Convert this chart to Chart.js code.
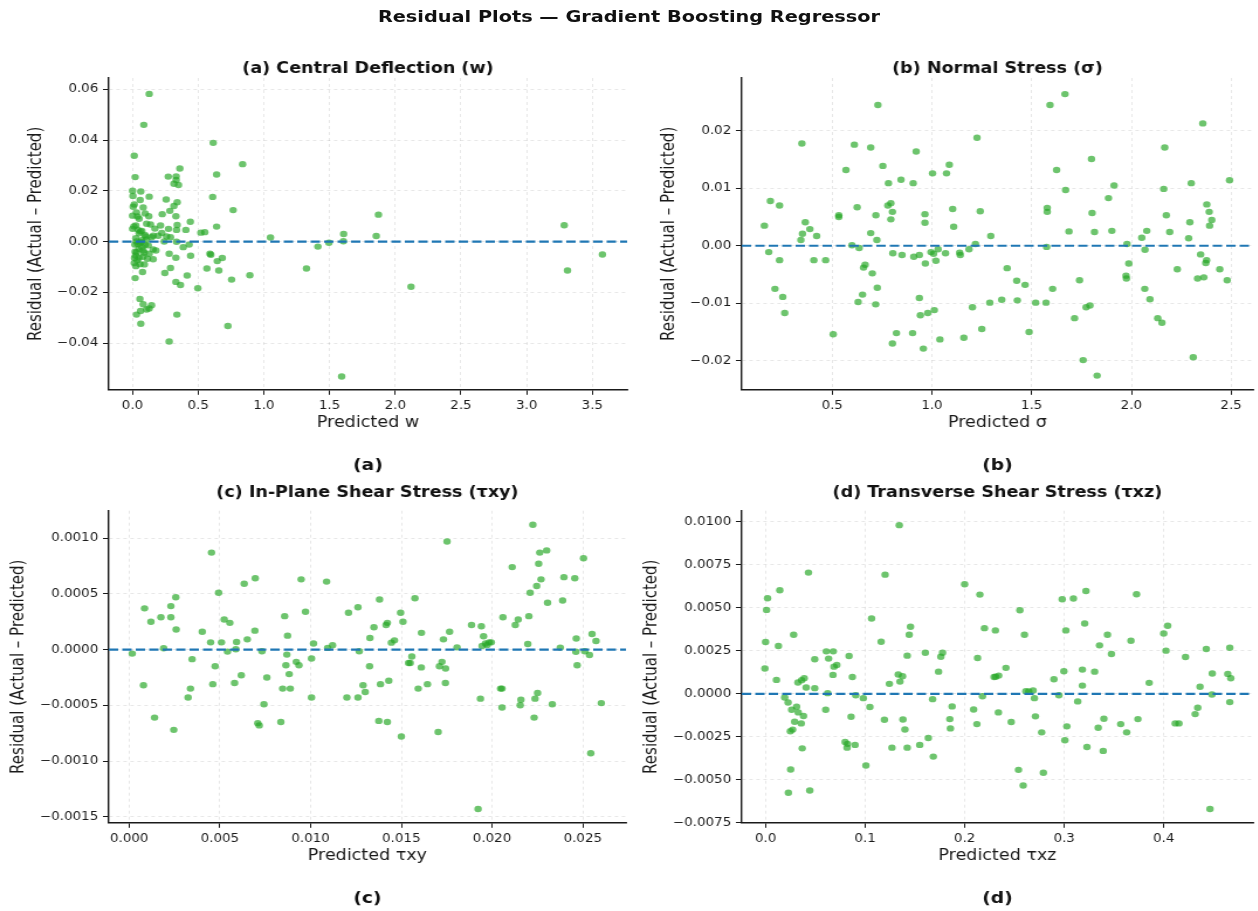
<!DOCTYPE html>
<html>
<head>
<meta charset="utf-8">
<title>Residual Plots — Gradient Boosting Regressor</title>
<script src="https://cdn.jsdelivr.net/npm/chart.js@4.4.1/dist/chart.umd.min.js"></script>
<style>
  html, body { margin: 0; padding: 0; background: #fff; width: 1258px; height: 911px; overflow: hidden; }
  /* the figure is laid out on a narrower sheet and widened horizontally */
  #fig { position: absolute; left: 0; top: 0; width: 1075.2px; height: 911px; transform: scaleX(1.17); transform-origin: 0 0; }
  #suptitle { position: absolute; left: 0; top: 7px; width: 1075.2px; text-align: center;
              font: bold 16.5px "DejaVu Sans", sans-serif; line-height: 20px; color: #111; }
  canvas { position: absolute; }
</style>
</head>
<body>
<div id="fig">
  <div id="suptitle">Residual Plots — Gradient Boosting Regressor</div>
  <canvas id="pa" width="548" height="431" style="left:0px;top:44px;width:548px;height:431px"></canvas>
  <canvas id="pb" width="527" height="431" style="left:548px;top:44px;width:527px;height:431px"></canvas>
  <canvas id="pc" width="548" height="432" style="left:0px;top:476px;width:548px;height:432px"></canvas>
  <canvas id="pd" width="527" height="432" style="left:548px;top:476px;width:527px;height:432px"></canvas>
</div>
<script>
// ---- (a) central deflection w: predicted value / residual ----
const wPred = [
  0.127, 0.086, 0.013, 0.614, 0.838, 0.36, 0.64, 0.02, 0.272, 0.332,
  0.332, 0.315, 0.35, 0.0, 0.063, 0.003, 0.127, 0.058, 0.61, 0.256,
  0.34, 0.013, 0.315, 0.081, 0.005, 0.284, 0.766, 0.096, 0.226, 0.0,
  0.038, 0.124, 0.33, 0.44, 0.107, 0.137, 0.213, 0.34, 0.64, 0.0,
  0.04, 0.071, 0.17, 0.274, 0.335, 0.406, 0.05, 0.094, 0.157, 0.223,
  0.259, 0.52, 0.55, 0.025, 0.107, 0.241, 0.335, 1.05, 0.018, 0.056,
  0.096, 0.071, 0.386, 0.431, 0.157, 0.178, 0.03, 0.089, 0.279, 0.33,
  0.442, 0.589, 0.596, 0.023, 0.048, 0.114, 0.157, 0.645, 0.683, 0.013,
  0.056, 0.025, 0.566, 0.657, 0.246, 0.289, 0.076, 0.02, 0.416, 0.893,
  0.754, 0.33, 0.365, 0.497, 0.056, 0.081, 0.145, 0.127, 0.107, 0.061,
  0.03, 0.338, 0.063, 0.726, 0.279, 0.03, 0.069, 0.048, 0.081, 0.036,
  0.127, 0.025, 0.145, 0.195, 0.289, 0.01, 0.04, 0.06, 0.08, 0.1,
  0.02, 0.05, 0.09, 0.07, 0.03, 0.12, 0.015,
  1.324, 1.411, 1.495, 1.607, 1.605, 1.855, 1.872, 2.12, 1.592, 3.286,
  3.311, 3.577
];
const wResid = [
  0.0582, 0.046, 0.0338, 0.0389, 0.0305, 0.0288, 0.0264, 0.0254, 0.0256, 0.0257,
  0.0243, 0.0228, 0.0223, 0.020, 0.0197, 0.018, 0.0177, 0.0164, 0.0176, 0.0166,
  0.0155, 0.0146, 0.014, 0.0134, 0.0137, 0.0121, 0.0124, 0.0111, 0.0108, 0.0102,
  0.0099, 0.01, 0.01, 0.0078, 0.007, 0.0067, 0.0063, 0.0065, 0.0059, 0.005,
  0.0047, 0.0042, 0.0051, 0.005, 0.0046, 0.0046, 0.0033, 0.0026, 0.0023, 0.0034,
  0.002, 0.0035, 0.0037, 0.0013, 0.0008, 0.0, -0.0001, 0.0016, -0.0012, -0.0005,
  -0.0013, -0.0022, -0.0022, -0.0012, -0.0031, -0.0035, -0.0042, -0.0044, -0.0048, -0.0064,
  -0.0056, -0.0048, -0.0052, -0.0055, -0.0064, -0.0068, -0.007, -0.0077, -0.0065, -0.0085,
  -0.0089, -0.0097, -0.0106, -0.0114, -0.0124, -0.0104, -0.012, -0.0144, -0.0134, -0.0133,
  -0.015, -0.0159, -0.0171, -0.0184, -0.0226, -0.0247, -0.0251, -0.0264, -0.0268, -0.0274,
  -0.0288, -0.0288, -0.0324, -0.0333, -0.0394, 0.0, -0.0003, -0.0029, -0.0035, -0.0074,
  -0.0048, 0.0063, 0.0017, 0.0023, 0.0017, 0.006, -0.001, 0.004, -0.006, 0.002,
  -0.004, 0.009, -0.009, 0.0005, 0.0115, -0.0015, -0.0065,
  -0.0106, -0.002, -0.0005, 0.003, 0.0001, 0.0022, 0.0106, -0.0178, -0.0532, 0.0064,
  -0.0114, -0.0051
];

// ---- (b) normal stress σ ----
const sigmaPred = [
  0.160, 0.182, 0.19, 0.236, 0.236, 0.213, 0.252, 0.262, 0.348, 0.365,
  0.351, 0.343, 0.388, 0.422, 0.408, 0.467, 0.505, 0.533, 0.533, 0.569,
  0.611, 0.625, 0.599, 0.635, 0.665, 0.657, 0.701, 0.652, 0.63, 0.693,
  0.729, 0.693, 0.724, 0.719, 0.726, 0.718, 0.754, 0.782, 0.779, 0.794,
  0.802, 0.794, 0.804, 0.802, 0.822, 0.845, 0.85, 0.906, 0.921, 0.909,
  0.937, 0.965, 0.965, 0.967, 0.937, 0.942, 0.979, 1.012, 0.903, 0.957,
  1.003, 0.995, 1.008, 1.02, 1.031, 1.068, 1.04, 1.073, 1.087, 1.104,
  1.109, 1.139, 1.142, 1.186, 1.16, 1.203, 1.226, 1.218,
  1.242, 1.25, 1.295, 1.29, 1.35, 1.377, 1.425, 1.428, 1.467, 1.487,
  1.52, 1.572, 1.575, 1.578, 1.578, 1.592, 1.605, 1.625, 1.667, 1.67,
  1.687, 1.715, 1.74, 1.758, 1.773, 1.792, 1.8, 1.803, 1.815, 1.828,
  1.885, 1.902, 1.913, 1.973, 1.975, 1.978, 1.987, 2.052, 2.068, 2.077,
  2.067, 2.093, 2.132, 2.153, 2.162, 2.167, 2.175, 2.192, 2.23, 2.287,
  2.293, 2.3, 2.31, 2.332, 2.347, 2.358, 2.363, 2.373, 2.377, 2.378,
  2.39, 2.392, 2.403, 2.443, 2.48, 2.492
];
const sigmaResid = [
  0.0035, -0.0011, 0.0078, 0.007, -0.0025, -0.0075, -0.0089, -0.0117, 0.0178, 0.0041,
  0.0021, 0.001, 0.0029, 0.0017, -0.0025, -0.0025, -0.0154, 0.0053, 0.005, 0.0132,
  0.0176, 0.0067, 0.0001, -0.0004, -0.0033, -0.0038, -0.0048, -0.0085, -0.0098, 0.0171,
  0.0245, 0.0022, 0.001, 0.0053, -0.0073, -0.0102, 0.0139, 0.0109, 0.007, 0.0074,
  0.0059, 0.0046, -0.0013, -0.017, -0.0152, 0.0115, -0.0016, 0.0109, 0.0164, -0.0019,
  -0.0016, 0.0055, 0.004, -0.0031, -0.0091, -0.0121, -0.0117, -0.0112, -0.0152, -0.0179,
  0.0126, -0.0011, -0.0014, -0.0026, -0.0006, -0.0013, -0.0163, 0.0126, 0.0141, 0.0064,
  0.0033, -0.0012, -0.0016, -0.0006, -0.016, -0.0107, 0.0188, 0.0003,
  0.006, -0.0145, 0.0017, -0.0099, -0.0094, -0.0039, -0.0061, -0.0095, -0.0068, -0.015,
  -0.0099, -0.0099, -0.0002, 0.0066, 0.0059, 0.0245, -0.0075, 0.0132, 0.0264, 0.0097,
  0.0025, -0.0126, -0.006, -0.0199, -0.0107, -0.0104, 0.0151, 0.0057, 0.0024, -0.0226,
  0.0083, 0.0026, 0.0105, -0.0052, -0.0057, 0.0003, -0.0031, 0.0014, -0.0007, 0.0026,
  -0.0075, -0.0093, -0.0126, -0.0134, 0.0099, 0.0171, 0.0053, 0.0024, -0.0041, 0.0013,
  0.0041, 0.0109, -0.0194, -0.0057, -0.0015, 0.0213, -0.0055, -0.003, -0.0025, 0.0072,
  0.0059, 0.0035, 0.0045, -0.0041, -0.006, 0.0114
];

// ---- (c) in-plane shear stress τxy ----
const txyPred = [
  0.00017, 0.00085, 0.00079, 0.0012, 0.0014, 0.00175, 0.0019, 0.0023, 0.0023, 0.00257,
  0.00259, 0.00246, 0.00325, 0.00338, 0.00347, 0.00403, 0.00454, 0.00449, 0.00461, 0.00474,
  0.00493, 0.00509, 0.00524, 0.00542, 0.00555, 0.00581, 0.00592, 0.00588, 0.00618, 0.00634,
  0.00651, 0.00695, 0.00693, 0.00709, 0.00717, 0.00732, 0.00743, 0.00759, 0.00836, 0.00846,
  0.00857, 0.00873, 0.00869, 0.00864, 0.00882, 0.00888, 0.00921, 0.00936, 0.00948, 0.00972,
  0.01005, 0.01016, 0.01005, 0.01088, 0.01094, 0.01121, 0.012, 0.01209, 0.01261, 0.01268,
  0.01261, 0.01289, 0.01301, 0.01327, 0.01325,
  0.01349, 0.0138, 0.01385, 0.01376, 0.01416, 0.01423, 0.01431, 0.01423, 0.01445, 0.01462,
  0.01496, 0.01509, 0.015, 0.0154, 0.01549, 0.01558, 0.01575, 0.01593, 0.0161, 0.01611,
  0.01644, 0.01703, 0.0171, 0.01724, 0.01732, 0.01744, 0.01743, 0.01752, 0.01766, 0.01807,
  0.01887, 0.01923, 0.01936, 0.01941, 0.01953, 0.01945, 0.01964, 0.01973, 0.01984, 0.01996,
  0.02047, 0.02055, 0.02055, 0.0206, 0.02111, 0.02128, 0.02144, 0.02159, 0.02155, 0.02197,
  0.02203, 0.0221, 0.02225, 0.02232, 0.02237, 0.02246, 0.02251, 0.02257, 0.02263, 0.0227,
  0.02301, 0.02306, 0.02332, 0.02376, 0.02389, 0.02396, 0.02456, 0.02464, 0.02462, 0.02469,
  0.02504, 0.02511, 0.02537, 0.02544, 0.02551, 0.02573, 0.02602
];
const txyResid = [
  -0.000036, 0.00037, -0.00032, 0.00025, -0.00061, 0.00029, 0.000012, 0.00039, 0.00029, 0.00047,
  0.00018, -0.00072, -0.00043, -0.00035, -0.000086, 0.00016, 0.00087, 0.000065, -0.00031, -0.00015,
  0.00051, 0.000065, 0.00027, -0.000018, 0.00024, -0.0003, 0.000068, 0.000003, -0.00023, 0.00059,
  0.000092, 0.00064, 0.00017, -0.00066, -0.00068, -0.000015, -0.00049, -0.00025, -0.00065, -0.00035,
  0.0003, 0.000125, -0.000045, -0.00014, -0.00022, -0.00035, -0.00011, -0.00014, 0.00063, 0.00034,
  -0.00008, 0.000054, -0.00043, 0.00061, 0.000015, 0.000039, -0.00043, 0.00033, 0.00038, -0.000015,
  -0.00043, -0.00032, -0.00038, 0.000104, -0.00015,
  0.0002, 0.00045, -0.00031, -0.00064, 0.00022, 0.00024, -0.00028, -0.00065, 0.000062, 0.000083,
  0.00033, 0.00025, -0.00078, -0.00012, -0.00012, -0.000062, 0.00046, -0.00035, -0.00016, 0.00015,
  -0.00031, -0.00074, -0.00015, -0.00011, 0.000092, -0.00017, -0.0003, 0.00097, 0.00016, 0.00002,
  0.00022, -0.00143, -0.00044, 0.00021, 0.00012, 0.000033, 0.000054, 0.000042, 0.000065, 0.000065,
  -0.00035, -0.00035, -0.00052, 0.00029, 0.00074, 0.00022, 0.00027, -0.00045, -0.0005, 0.00005,
  0.0003, 0.00051, 0.00112, -0.00061, -0.00044, 0.00057, -0.00039, 0.00077, 0.00087, 0.00063,
  0.00089, 0.00042, -0.00049, 0.000018, 0.00044, 0.00065, 0.00064, 0.0001, -0.00002, -0.00014,
  0.00082, -0.000015, -0.000048, -0.00093, 0.00014, 0.000077, -0.00048
];

// ---- (d) transverse shear stress τxz ----
const txzPred = [
  -0.0007, 0.0, 0.001, 0.002, 0.0109, 0.0129, 0.0143, 0.0192, 0.0226, 0.0262,
  0.0249, 0.0272, 0.0282, 0.0292, 0.0312, 0.0325, 0.0328, 0.0358, 0.0368, 0.0362,
  0.0381, 0.0388, 0.0408, 0.0431, 0.0252, 0.0229, 0.0444, 0.0494, 0.0494, 0.0604,
  0.061, 0.0633, 0.0624, 0.068, 0.0677, 0.0687, 0.0716, 0.0799, 0.0819, 0.0839,
  0.0823, 0.0859, 0.0872, 0.0899, 0.0906, 0.0982, 0.1008, 0.1048, 0.1065, 0.1161,
  0.1194, 0.1201, 0.1244, 0.127, 0.1333, 0.1343, 0.135, 0.1376, 0.138, 0.14,
  0.1423, 0.1423, 0.1443, 0.1456, 0.1549, 0.1605, 0.1635, 0.1678, 0.1685, 0.1738,
  0.1761, 0.1778, 0.1851, 0.1857, 0.1874,
  0.2, 0.209, 0.2123, 0.213, 0.2153, 0.2179, 0.2199, 0.2296, 0.2309, 0.2312,
  0.2342, 0.2339, 0.2415, 0.2468, 0.2541, 0.2555, 0.2588, 0.2601, 0.2615, 0.2644,
  0.2688, 0.2701, 0.2711, 0.2774, 0.2791, 0.2897, 0.2947, 0.298, 0.2997, 0.3017,
  0.3027, 0.3007, 0.3093, 0.3136, 0.3183, 0.3183, 0.3206, 0.3219, 0.3229, 0.3306,
  0.3342, 0.3355, 0.3392, 0.3399, 0.3435, 0.3475, 0.3568, 0.3628, 0.3671, 0.3727,
  0.3741, 0.3854, 0.4, 0.4023, 0.404, 0.4116, 0.4153, 0.4219, 0.4316, 0.4342,
  0.4365, 0.4428, 0.4465, 0.4485, 0.4488, 0.4644, 0.4664, 0.4674, 0.4664
];
const txzResid = [
  0.00147, 0.00301, 0.00488, 0.00556, 0.00081, 0.00278, 0.00602, -0.00021, -0.0005, -0.00093,
  -0.00218, -0.00208, 0.00344, -0.00162, -0.00075, 0.00066, -0.00108, -0.00172, -0.00317, 0.00079,
  -0.00129, 0.00091, 0.00037, 0.00705, -0.0044, -0.00575, -0.00562, 0.00033, 0.00201, -0.00093,
  0.00247, 0.00205, 0.00004, 0.00247, 0.0011, 0.00158, 0.00168, -0.0028, -0.00313, 0.0022,
  -0.00291, -0.00133, 0.00098, -0.00297, -0.00008, -0.00025, -0.00417, -0.00077, 0.00438, 0.00303,
  -0.00151, 0.00693, 0.00058, -0.00313, 0.00112, 0.00981, 0.00071, 0.00102, -0.00149, -0.00207,
  -0.00313, 0.00222, 0.00344, 0.0039, -0.00297, 0.00239, -0.00257, -0.00031, -0.00365, 0.00129,
  0.00216, 0.00239, -0.00147, -0.00201, -0.00073,
  0.00637, -0.00091, -0.00176, 0.00208, 0.00577, -0.00014, 0.00382, 0.00098, 0.00369, 0.001,
  0.00106, -0.00108, 0.00151, -0.00164, -0.00442, 0.00486, -0.00533, 0.00344, 0.00015, 0.00014,
  0.00019, -0.00025, -0.00131, -0.00224, -0.00459, 0.00085, -0.00008, 0.0055, 0.00131, 0.00369,
  -0.00189, -0.0027, 0.00554, -0.00044, 0.00141, 0.00048, 0.00409, 0.00598, -0.00309, 0.00129,
  -0.00197, 0.00282, -0.00332, -0.00145, 0.00344, 0.00232, -0.00176, -0.00224, 0.00309, 0.00579,
  -0.00147, 0.00064, 0.00351, 0.00251, 0.00396, -0.00172, -0.00172, 0.00214, -0.00118, -0.00081,
  0.00041, 0.00261, -0.0067, -0.00004, 0.00118, 0.00116, 0.00268, 0.00091, -0.00048
];

// ---- titles, captions, axis labels ----
const panelTitles = ['(a) Central Deflection (w)', '(b) Normal Stress (\u03c3)',
                     '(c) In-Plane Shear Stress (\u03c4xy)', '(d) Transverse Shear Stress (\u03c4xz)'];
const captions = ['(a)', '(b)', '(c)', '(d)'];
const xLabels = ['Predicted w', 'Predicted \u03c3', 'Predicted \u03c4xy', 'Predicted \u03c4xz'];
const yLabel = 'Residual (Actual \u2013 Predicted)';

// axis limits and tick steps
const xLimits = [[-0.1805, 3.765], [0.0467, 2.61], [-0.00112, 0.02738], [-0.0239, 0.4898]];
const yLimits = [[-0.05843, 0.06446], [-0.02507, 0.0292], [-0.001554, 0.001246], [-0.0075, 0.01065]];
const xSteps = [0.5, 0.5, 0.005, 0.1];
const ySteps = [0.02, 0.01, 0.0005, 0.0025];
const xDecimals = [1, 1, 3, 1];
const yDecimals = [2, 2, 4, 4];

const FONT = '"DejaVu Sans", sans-serif';
const INK = '#1a1a1a';

function fmt(d) {
  return v => {
    const a = Math.abs(v) < 1e-12 ? 0 : v;
    return (a < 0 ? '\u2212' : '') + Math.abs(a).toFixed(d);
  };
}

function axisStyle(step, decimals, label, titlePad) {
  return {
    type: 'linear',
    ticks: { stepSize: step, includeBounds: false, callback: fmt(decimals), color: INK,
             font: { family: FONT, size: 11.5 }, padding: 4, maxRotation: 0, autoSkip: false },
    grid: { color: 'rgba(0,0,0,0.12)', lineWidth: 0.8, drawTicks: true, tickLength: 5,
            tickColor: INK, tickWidth: 1, tickBorderDash: [] },
    border: { display: true, color: INK, width: 1.4, dash: [3, 3] },
    title: { display: true, text: label, color: INK, font: { family: FONT, size: 15 }, padding: titlePad }
  };
}

function drawPanel(id, i, cfg) {
  const points = cfg.xs.map((x, k) => ({ x: x, y: cfg.ys[k] }));
  const xl = xLimits[i], yl = yLimits[i];
  const xAxis = axisStyle(xSteps[i], xDecimals[i], xLabels[i], { top: 0, bottom: 2 });
  xAxis.min = xl[0]; xAxis.max = xl[1];
  xAxis.afterFit = s => { s.height = 44; };
  const yAxis = axisStyle(ySteps[i], yDecimals[i], yLabel, { top: cfg.yTitlePad, bottom: 0 });
  yAxis.min = yl[0]; yAxis.max = yl[1];
  yAxis.afterFit = s => { s.width = cfg.yWidth; };
  return new Chart(document.getElementById(id), {
    type: 'scatter',
    data: {
      datasets: [
        { // zero-residual reference line across the full x range
          data: [{ x: xl[0], y: 0 }, { x: xl[1], y: 0 }], showLine: true,
          borderColor: '#1f77b4', borderWidth: 2.2, borderDash: [8, 3.5], pointRadius: 0, order: 0 },
        { data: points, backgroundColor: 'rgba(40,168,40,0.68)', borderWidth: 0,
          pointRadius: 3.2, order: 1 }
      ]
    },
    options: {
      responsive: false, animation: false, events: [],
      layout: { padding: { left: 0, right: cfg.padRight, top: 0, bottom: 0 } },
      plugins: {
        legend: { display: false },
        tooltip: { enabled: false },
        title: { display: true, text: panelTitles[i], fullSize: false, color: '#111',
                 font: { family: FONT, size: 15, weight: 'bold' },
                 padding: { top: cfg.titlePad[0], bottom: cfg.titlePad[1] } },
        subtitle: { display: true, position: 'bottom', text: captions[i], fullSize: false, color: '#111',
                    font: { family: FONT, size: 16, weight: 'bold' },
                    padding: { top: cfg.capPad, bottom: 0 } }
      },
      scales: { x: xAxis, y: yAxis }
    }
  });
}

drawPanel('pa', 0, { xs: wPred, ys: wResid, yWidth: 93, padRight: 12, yTitlePad: 22.6, titlePad: [16, 0], capPad: 22 });
drawPanel('pb', 1, { xs: sigmaPred, ys: sigmaResid, yWidth: 86, padRight: 0, yTitlePad: 15.6, titlePad: [16, 0], capPad: 22 });
drawPanel('pc', 2, { xs: txyPred, ys: txyResid, yWidth: 93, padRight: 13, yTitlePad: 7.2, titlePad: [8, 8.7], capPad: 22 });
drawPanel('pd', 3, { xs: txzPred, ys: txzResid, yWidth: 86, padRight: 0, yTitlePad: 0.5, titlePad: [8, 8.7], capPad: 22 });
</script>
</body>
</html>
